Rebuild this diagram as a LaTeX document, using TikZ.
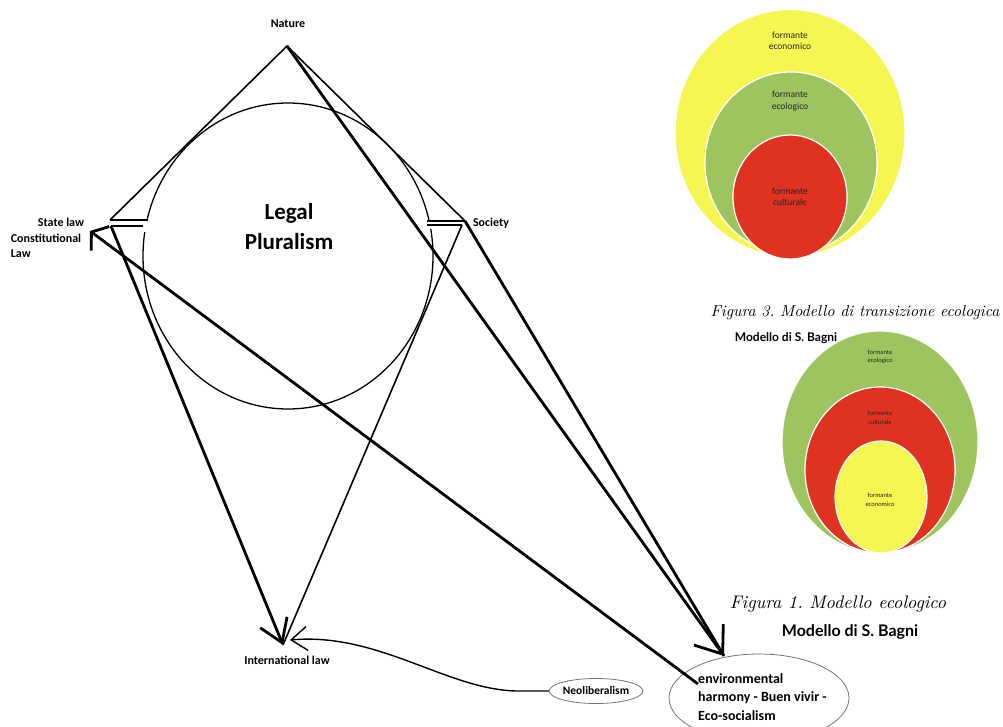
\documentclass[tikz,border=0pt]{standalone}
\usepackage{fontspec}
\usepackage{tikz}
\usetikzlibrary{arrows.meta,shapes.geometric,positioning}
\newfontfamily\labfont{Carlito}
\newfontfamily\bagnifont{Lato}
\definecolor{fyellow}{RGB}{246,246,82}
\definecolor{fgreen}{RGB}{157,196,94}
\definecolor{fred}{RGB}{223,50,33}

\begin{document}
\begin{tikzpicture}
%defines
  [x=1pt,y=-1pt,
lbl/.style={font=\labfont\bfseries\fontsize{12}{15}\selectfont,inner sep=0pt},
ring/.style={ellipse,draw=white,line width=1.2pt,inner sep=0pt},
ftext/.style={font=\labfont\fontsize{9.5}{11.5}\selectfont,align=center,text=black!85,inner sep=0pt},
stext/.style={font=\labfont\fontsize{6.5}{8.5}\selectfont,align=center,text=black!85,inner sep=0pt},
caption/.style={font=\itshape,text=black,inner sep=0pt},
bagni/.style={font=\bagnifont\bfseries,inner sep=0pt},
thinline/.style={line width=1.6pt},
thickline/.style={line width=2.8pt},
oval/.style={ellipse,draw=black!55,line width=0.8pt,inner sep=0pt}]
\useasboundingbox (0,0) rectangle (1003,727);
%circles on the right
\node[ring,fill=fyellow,minimum width=230pt,minimum height=247pt] (ringYa) at (790,133) {};
\node[ring,fill=fgreen,minimum width=172pt,minimum height=182pt] (ringGa) at (791,163) {};
\node[ring,fill=fred,minimum width=114pt,minimum height=124pt] (ringRa) at (790,197) {};
\node[ftext] (fecoA) at (790,41) {formante\\economico};
\node[ftext] (fecolA) at (790,101) {formante\\ecologico};
\node[ftext] (fcultA) at (790,197) {formante\\culturale};
\node[ring,fill=fgreen,minimum width=196pt,minimum height=222pt] (ringGb) at (880,442) {};
\node[ring,fill=fred,minimum width=150pt,minimum height=166pt] (ringRb) at (880,470) {};
\node[ring,fill=fyellow,minimum width=92pt,minimum height=112pt] (ringYb) at (881,497) {};
\node[stext] (fecolB) at (880,357) {formante\\ecologico};
\node[stext] (fcultB) at (880,418) {formante\\culturale};
\node[stext] (fecoB) at (880,500) {formante\\economico};
\node[caption] (figthree) at (855,313) {\scalebox{1.59}{Figura 3.\ Modello di transizione ecologica}};
\node[bagni] (bagniA) at (786,338) {\fontsize{12}{14}\selectfont Modello di S. Bagni};
\node[caption] (figone) at (838,604) {\scalebox{1.82}{Figura 1.\ Modello ecologico}};
\node[bagni] (bagniB) at (850,632) {\fontsize{16}{18}\selectfont Modello di S. Bagni};
%circle
\draw[line width=1.3pt] (288,256) ellipse [x radius=145pt, y radius=153pt];
\fill[white] (139,221) rectangle (153,232);
\fill[white] (423,222) rectangle (437,229);
%nodes
\node[lbl] (nature) at (288,24) {Nature};
\node[lbl] (statelaw) at (61,222) {State law};
\node[lbl,align=left] (constlaw) at (46,246) {Constitutional\\Law};
\node[lbl] (society) at (491,223) {Society};
\node[font=\labfont\bfseries\fontsize{23}{30}\selectfont,align=center,inner sep=0pt] (legalpl) at (289,227) {Legal\\Pluralism};
\node[lbl] (intlaw) at (287,660) {International law};
\node[oval,font=\labfont\bfseries\fontsize{11.5}{13}\selectfont,minimum width=82pt,minimum height=25pt] (neolib) at (596,691) {Neoliberalism};
\node[oval,minimum width=180pt,minimum height=88pt] (envoval) at (759,698) {};
\node[font=\labfont\bfseries\fontsize{14}{18.5}\selectfont,align=left,anchor=west,inner sep=0pt] (envtxt) at (698,697) {environmental\\harmony - Buen vivir -\\Eco-socialism};
\coordinate (apex) at (287,46);
\coordinate (lcor) at (110,220);
\coordinate (lcorb) at (111,226);
\coordinate (rcor) at (465,221);
\coordinate (rcorb) at (462,225);
\coordinate (intltip) at (283,645);
\coordinate (neotip) at (290,640);
\coordinate (envtip) at (724,656);
\coordinate (envfoot) at (698,684);
\coordinate (sltip) at (90,231);
%links
\draw[thinline] (lcor) -- (apex) -- (rcor);
\draw[thinline] (lcor) -- ++(38,0);
\draw[thinline] (lcorb) -- ++(32,0);
\draw[thinline] (rcor) -- ++(-38,0);
\draw[thinline] (rcorb) -- ++(-35,0);
\draw[thickline,-{Straight Barb[length=24pt,width=36pt]}] (apex) -- (envtip);
\draw[thickline] (rcor) -- (envtip);
\draw[thickline,-{Straight Barb[length=22pt,width=29pt]}] (lcorb) -- (intltip);
\draw[thinline] (rcorb) -- (intltip);
\draw[thickline,-{Straight Barb[length=11pt,width=30pt]}] (envfoot) -- (sltip);
\draw[line width=1.4pt,-{Straight Barb[length=16pt,width=24pt]}] (neolib.west) -- ++(-28,0) .. controls (450,692) and (380,632) .. (neotip);
\end{tikzpicture}
\end{document}
